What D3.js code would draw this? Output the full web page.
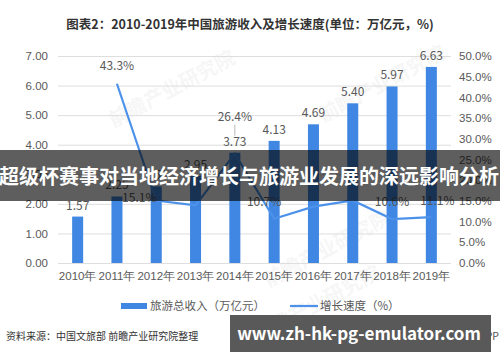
<!DOCTYPE html>
<html>
<head>
<meta charset="utf-8">
<script src="https://cdn.jsdelivr.net/npm/d3@7"></script>
<style>
  body { margin: 0; background: #fff; }
  svg { display: block; font-family: "Microsoft YaHei", "Noto Sans CJK SC", sans-serif; }
</style>
</head>
<body>
<svg id="chart" width="500" height="362"></svg>
<script>
// data
var years = ["2010年", "2011年", "2012年", "2013年", "2014年", "2015年", "2016年", "2017年", "2018年", "2019年"];
var income = [1.57, 2.25, 2.59, 2.95, 3.73, 4.13, 4.69, 5.40, 5.97, 6.63];
var growth = [null, 43.3, 15.1, 13.9, 26.4, 10.7, 13.6, 15.1, 10.6, 11.1];
var leftTicks = [0, 1, 2, 3, 4, 5, 6, 7];
var rightTicks = [0, 5, 10, 15, 20, 25, 30, 35, 40, 45, 50];

var svg = d3.select("#chart");
var barColor = "#3f87e2",
    lineColor = "#4d92ea",
    textColor = "#595959";

var x = d3.scaleBand()
    .domain(years)
    .range([58, 451])
    .paddingInner(0.72)
    .paddingOuter(0.36);

var yL = d3.scaleLinear().domain([0, 7]).range([263, 56]);
var yR = d3.scaleLinear().domain([0, 50]).range([263, 56]);

// faint watermarks
var marks = [[175, 95], [385, 90], [330, 255], [320, 310]];
svg.selectAll(".wm")
    .data(marks)
  .enter().append("text")
    .attr("class", "wm")
    .attr("transform", function(d) { return "translate(" + d[0] + "," + d[1] + ") rotate(-28)"; })
    .attr("text-anchor", "middle")
    .style("font-size", "20px")
    .style("font-weight", "bold")
    .style("fill", "#d6d6d6")
    .style("fill-opacity", 0.22)
    .text("前瞻产业研究院");

// title
svg.append("text")
    .attr("x", 250)
    .attr("y", 29)
    .attr("text-anchor", "middle")
    .style("font-size", "12.5px")
    .style("font-weight", "bold")
    .style("fill", "#333")
    .text("图表2：2010-2019年中国旅游收入及增长速度(单位：万亿元，%)");

// gridlines
svg.append("g")
    .attr("class", "grid")
    .attr("transform", "translate(58,0)")
    .call(d3.axisLeft(yL).tickValues(leftTicks).tickSize(-393).tickFormat(""))
    .call(function(g) { g.select(".domain").remove(); })
    .selectAll("line")
    .style("stroke", "#dedede");

// left axis
svg.append("g")
    .attr("transform", "translate(48,0)")
    .call(d3.axisLeft(yL).tickValues(leftTicks).tickSize(0).tickFormat(d3.format(".2f")))
    .call(function(g) { g.select(".domain").remove(); })
    .selectAll("text")
    .attr("x", 0)
    .style("font-size", "11.5px")
    .style("fill", textColor);

// right axis
svg.append("g")
    .attr("transform", "translate(459,0)")
    .call(d3.axisRight(yR).tickValues(rightTicks).tickSize(0).tickFormat(function(d) { return d.toFixed(1) + "%"; }))
    .call(function(g) { g.select(".domain").remove(); })
    .selectAll("text")
    .attr("x", 0)
    .style("font-size", "11.5px")
    .style("fill", textColor);

// x axis
svg.append("g")
    .attr("transform", "translate(0,263)")
    .call(d3.axisBottom(x).tickSize(0))
    .call(function(g) { g.select(".domain").remove(); })
    .selectAll("text")
    .attr("dy", "1.25em")
    .style("font-size", "11.5px")
    .style("fill", textColor);

// bars
svg.selectAll(".bar")
    .data(income)
  .enter().append("rect")
    .attr("class", "bar")
    .attr("x", function(d, i) { return x(years[i]); })
    .attr("y", function(d) { return yL(d); })
    .attr("width", x.bandwidth())
    .attr("height", function(d) { return yL(0) - yL(d); })
    .style("fill", barColor);

svg.selectAll(".barLabel")
    .data(income)
  .enter().append("text")
    .attr("class", "barLabel")
    .attr("x", function(d, i) { return x(years[i]) + x.bandwidth() / 2; })
    .attr("y", function(d) { return yL(d) - 7; })
    .attr("text-anchor", "middle")
    .style("font-size", "12px")
    .style("fill", textColor)
    .text(function(d) { return d.toFixed(2); });

// growth line
var pts = growth.map(function(d, i) { return {year: years[i], value: d}; })
    .filter(function(d) { return d.value !== null; });

var line = d3.line()
    .x(function(d) { return x(d.year) + x.bandwidth() / 2; })
    .y(function(d) { return yR(d.value); });

svg.append("path")
    .datum(pts)
    .attr("d", line)
    .style("fill", "none")
    .style("stroke", lineColor)
    .style("stroke-width", 2.2);

// growth labels that show in the picture, with their offsets
var growthOffsets = {
  "2011年": [0, -14],
  "2012年": [-17, 2],
  "2014年": [0, -33],
  "2015年": [-10, -13],
  "2018年": [0, -13],
  "2019年": [6, -12]
};
var labelled = pts.filter(function(d) { return growthOffsets[d.year]; });

svg.selectAll(".growthLabel")
    .data(labelled)
  .enter().append("text")
    .attr("class", "growthLabel")
    .attr("x", function(d) { return x(d.year) + x.bandwidth() / 2 + growthOffsets[d.year][0]; })
    .attr("y", function(d) { return yR(d.value) + growthOffsets[d.year][1]; })
    .attr("text-anchor", "middle")
    .style("font-size", "12px")
    .style("fill", textColor)
    .text(function(d) { return d.value.toFixed(1) + "%"; });

// leader line for 26.4%
var p14 = pts.filter(function(d) { return d.year === "2014年"; })[0];
svg.append("line")
    .attr("x1", x(p14.year) + x.bandwidth() / 2)
    .attr("x2", x(p14.year) + x.bandwidth() / 2)
    .attr("y1", yR(p14.value) - 29)
    .attr("y2", yR(p14.value) - 18)
    .style("stroke", "#aaa")
    .style("stroke-width", 0.8);

// legend
var legend = svg.append("g").attr("transform", "translate(0,306)");
legend.append("rect")
    .attr("x", 121).attr("y", -3)
    .attr("width", 26).attr("height", 6)
    .style("fill", barColor);
legend.append("text")
    .attr("x", 150).attr("y", 4)
    .style("font-size", "11.5px")
    .style("fill", textColor)
    .text("旅游总收入（万亿元）");
legend.append("line")
    .attr("x1", 290).attr("x2", 318)
    .attr("y1", 0).attr("y2", 0)
    .style("stroke", lineColor)
    .style("stroke-width", 2.2);
legend.append("text")
    .attr("x", 320).attr("y", 4)
    .style("font-size", "11.5px")
    .style("fill", textColor)
    .text("增长速度（%）");

// source
svg.append("text")
    .attr("x", 6).attr("y", 340)
    .style("font-size", "10px")
    .style("fill", "#333")
    .text("资料来源：中国文旅部 前瞻产业研究院整理");
svg.append("text")
    .attr("x", 499).attr("y", 340)
    .attr("text-anchor", "end")
    .style("font-size", "10.5px")
    .style("fill", "#555")
    .text("@前瞻经济学人APP");

// overlay band with headline
svg.append("rect")
    .attr("x", 0).attr("y", 150)
    .attr("width", 500).attr("height", 51)
    .style("fill", "#000")
    .style("fill-opacity", 0.63);
svg.append("text")
    .attr("x", 249).attr("y", 184)
    .attr("text-anchor", "middle")
    .style("font-size", "20px")
    .style("font-weight", "bold")
    .style("fill", "#fff")
    .text("超级杯赛事对当地经济增长与旅游业发展的深远影响分析");

// site box bottom right
svg.append("rect")
    .attr("x", 230).attr("y", 315)
    .attr("width", 261).attr("height", 37)
    .style("fill", "#595959");
svg.append("text")
    .attr("x", 359).attr("y", 340)
    .attr("text-anchor", "middle")
    .style("font-size", "17px")
    .style("font-weight", "bold")
    .style("fill", "#fff")
    .text("www.zh-hk-pg-emulator.com");
</script>
</body>
</html>
